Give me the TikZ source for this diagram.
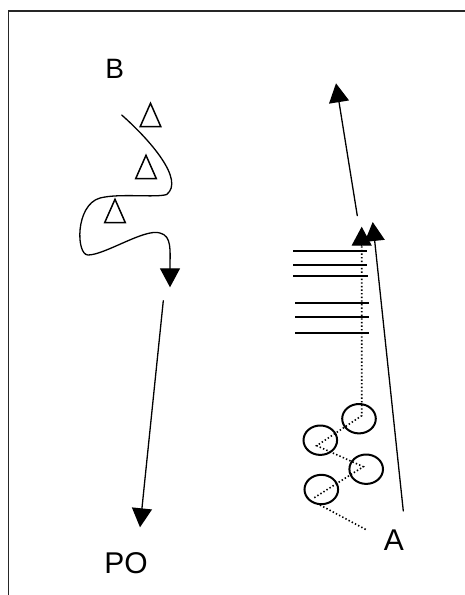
\documentclass[tikz,border=0pt]{standalone}
\usepackage{fontspec}
\setmainfont{Liberation Sans}
\usetikzlibrary{arrows.meta}
\begin{document}
\begin{tikzpicture}[x=1pt,y=-1pt,
  line/.style={line width=1.3pt, line cap=round},
  arr/.style={line, -{Triangle[width=20pt,length=19pt]}},
  bar/.style={line width=2pt},
  dots/.style={line width=1.6pt, dash pattern=on 1.4pt off 2.2pt},
  ring/.style={line width=2pt},
  tri/.style={line width=1.5pt, line join=miter},
  lbl/.style={inner sep=0pt, anchor=base, font=\fontsize{30}{30}\selectfont}]
\useasboundingbox (0,0) rectangle (465,595);
% frame
\draw[line width=1.5pt, draw=black!85] (8.5,595) -- (8.5,11) -- (465,11);
% labels
\node[lbl, font=\fontsize{28}{28}\selectfont] (B) at (114.7,78.3) {B};
\node[lbl] (PO) at (126,573.3) {PO};
\node[lbl] (A) at (394,550.5) {A};
% triangles
\foreach \cx/\by in {150.5/126.6, 146/178.6, 115/222.6}
  \draw[tri] (\cx-10.3,\by) -- (\cx,\by-23.3) -- (\cx+10.3,\by) -- cycle;
% wavy path
\coordinate (w0) at (121.7,115);
\coordinate (w1) at (170,287.3);
\draw[arr] (w0) .. controls (150,140) and (185,180) .. (166.7,194.5)
  .. controls (155,198) and (120,193) .. (100,198)
  .. controls (75,205) and (76,255) .. (88,255)
  .. controls (105,255) and (145,228) .. (160,233)
  .. controls (172,236) and (170,250) .. (w1);
% long arrow to PO
\coordinate (s0) at (163.3,300.7);
\coordinate (s1) at (140,527.3);
\draw[arr] (s0) -- (s1);
% right side arrows
\coordinate (a0) at (357.3,215.7);
\coordinate (a1) at (336,83.3);
\draw[arr] (a0) -- (a1);
\coordinate (c0) at (403.3,511);
\coordinate (c1) at (372.7,222);
\draw[arr] (c0) -- (c1);
% horizontal bars
\foreach \y/\xa/\xb in {250.7/293.3/367.3, 265/293.3/367.3, 276/293.3/367.6,
  303.3/295/369.3, 317.3/295/369, 333.3/295/369.3}
  \draw[bar] (\xa,\y) -- (\xb,\y);
% circles
\coordinate (e1) at (359,418.7);
\coordinate (e2) at (320.3,440.2);
\coordinate (e3) at (366.2,469.2);
\coordinate (e4) at (321.3,489.5);
\foreach \e in {e1,e2,e3,e4}
  \draw[ring] (\e) ellipse [x radius=16.8pt, y radius=14.7pt];
% dotted path
\coordinate (d0) at (361.7,415.7);
\coordinate (d1) at (316.7,445.7);
\coordinate (d2) at (363.3,466.7);
\coordinate (d3) at (314.3,497.7);
\coordinate (d4) at (320,505);
\coordinate (d5) at (366.7,530);
\coordinate (db) at (361.7,246);
\coordinate (dt) at (361.7,226.7);
\draw[dots] (d3) -- (d2) -- (d1) -- (d0) -- (db);
\draw[line width=1.3pt, -{Triangle[width=20pt,length=19pt]}] (db) -- (dt);
\draw[dots] (d4) -- (d5);
\end{tikzpicture}
\end{document}
